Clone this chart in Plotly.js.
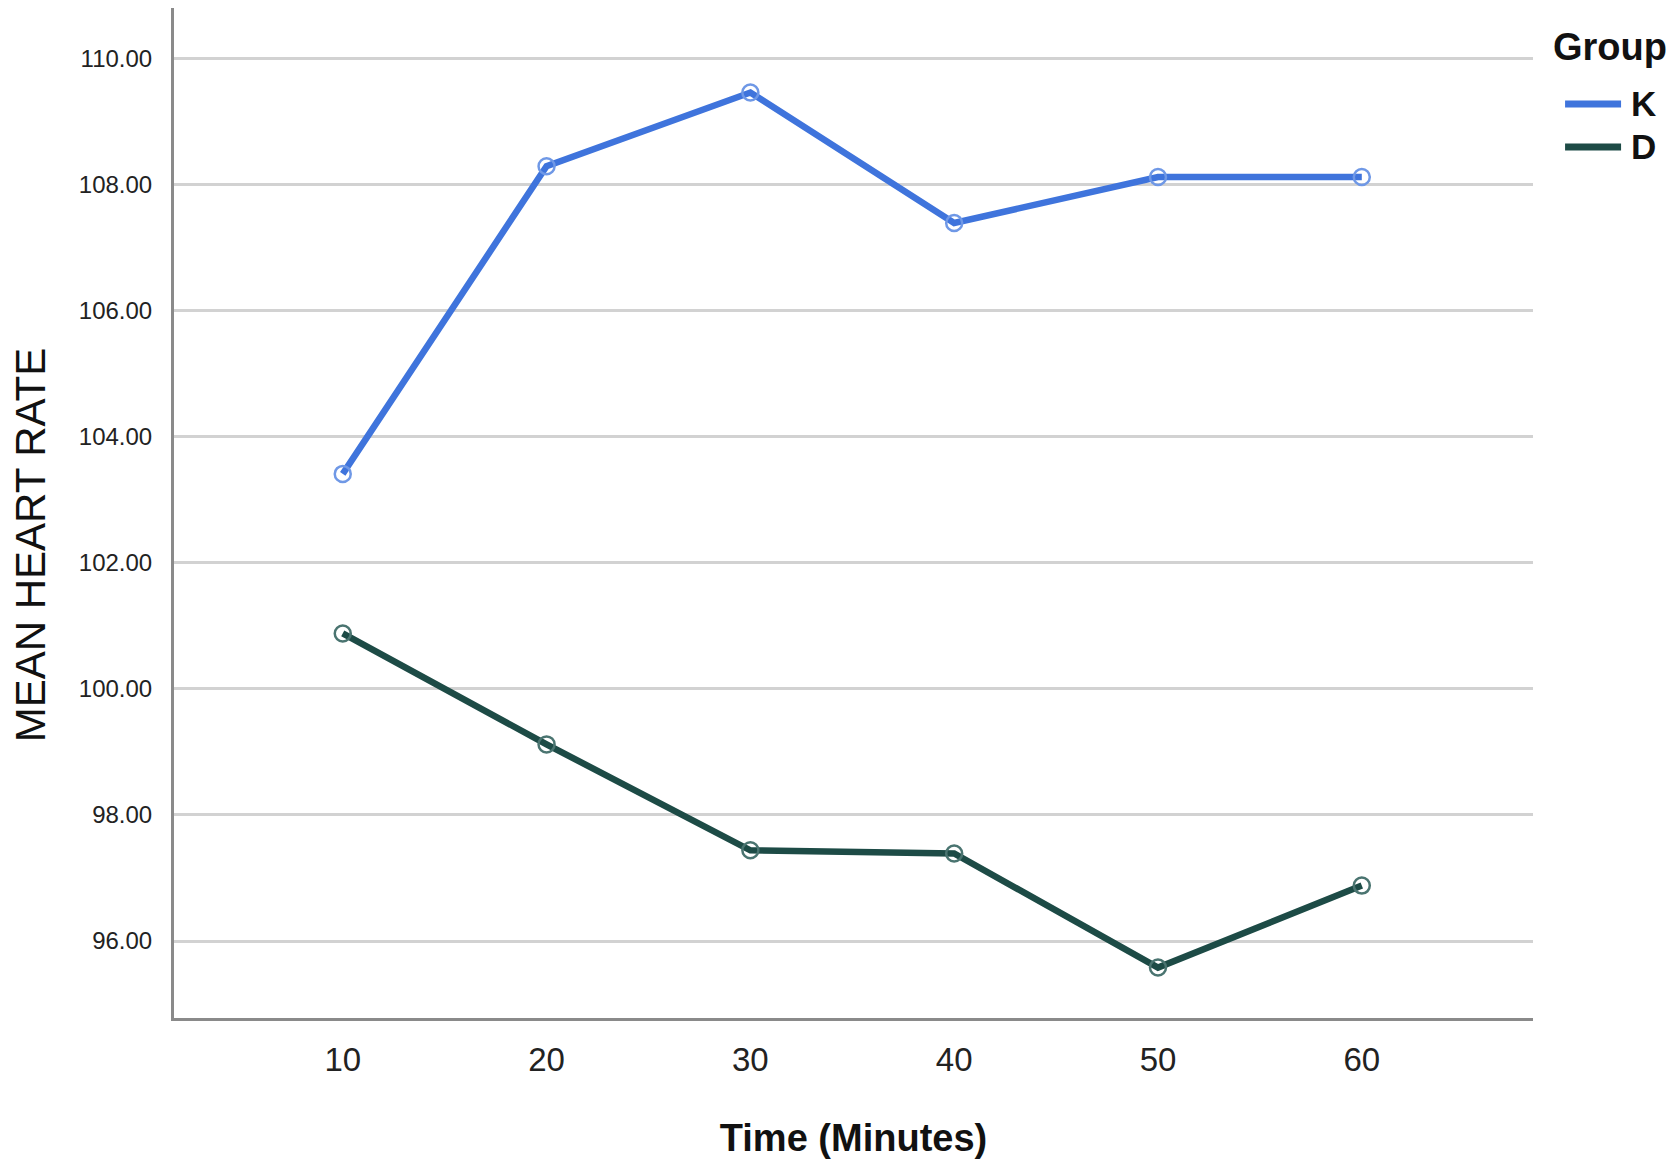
<!DOCTYPE html>
<html>
<head>
<meta charset="utf-8">
<script src="https://cdn.plot.ly/plotly-3.0.1.min.js"></script>
<style>html,body{margin:0;padding:0;background:#fff;}#chart{width:1675px;height:1168px;}</style>
</head>
<body>
<div id="chart"></div>
<script>
const time = [10, 20, 30, 40, 50, 60];
const groupK = [103.41, 108.29, 109.46, 107.39, 108.12, 108.12];
const groupD = [100.88, 99.12, 97.44, 97.39, 95.58, 96.88];
const yTicks = [96, 98, 100, 102, 104, 106, 108, 110];
const groupNames = ['K', 'D'];
const lineColors = ['#3f74dc', '#1d4b46'];
const markerColors = ['#6f98e6', '#4a7470'];

const series = [groupK, groupD];
const traces = [];
series.forEach((ys, i) => {
  traces.push({x: time, y: ys, name: groupNames[i], mode: 'lines', type: 'scatter',
    line: {color: lineColors[i], width: 6.5}, showlegend: false});
  traces.push({x: time, y: ys, name: groupNames[i], mode: 'markers', type: 'scatter',
    marker: {symbol: 'circle-open', size: 16, color: markerColors[i], line: {width: 2.5, color: markerColors[i]}},
    showlegend: false});
});

// manual legend (paper coordinates)
const legY = [0.905, 0.8624];
const shapes = [];
const annotations = [
  {text: '<b>Group</b>', xref: 'paper', yref: 'paper', x: 1.0133, y: 0.9614, xanchor: 'left', yanchor: 'middle',
   showarrow: false, font: {size: 38, color: '#111'}},
  {text: 'MEAN HEART RATE', xref: 'paper', yref: 'paper', x: -0.106, y: 0.468, xanchor: 'center', yanchor: 'middle',
   textangle: -90, showarrow: false, font: {size: 42, color: '#111'}}
];
groupNames.forEach((n, i) => {
  shapes.push({type: 'line', xref: 'paper', yref: 'paper', x0: 1.0236, x1: 1.0648, y0: legY[i], y1: legY[i],
    line: {color: lineColors[i], width: 7}});
  annotations.push({text: '<b>' + n + '</b>', xref: 'paper', yref: 'paper', x: 1.0706, y: legY[i],
    xanchor: 'left', yanchor: 'middle', showarrow: false, font: {size: 35, color: '#111'}});
});

const layout = {
  width: 1675, height: 1168,
  margin: {l: 174, r: 142, t: 8, b: 150},
  paper_bgcolor: '#fff', plot_bgcolor: '#fff',
  font: {family: 'Liberation Sans, Arial, sans-serif', color: '#222'},
  showlegend: false,
  shapes: shapes,
  annotations: annotations,
  xaxis: {
    range: [1.72, 68.4],
    tickvals: time, ticks: '', ticklabelstandoff: 10,
    tickfont: {size: 33, color: '#222'},
    showgrid: false, zeroline: false,
    showline: true, linecolor: '#8a8a8a', linewidth: 3,
    title: {text: '<b>Time (Minutes)</b>', font: {size: 38, color: '#111'}, standoff: 48}
  },
  yaxis: {
    range: [94.78, 110.8],
    tickvals: yTicks, tickformat: '.2f', ticks: '', ticklabelstandoff: 14,
    tickfont: {size: 24, color: '#222'},
    showgrid: true, gridcolor: '#d2d2d2', gridwidth: 3,
    zeroline: false,
    showline: true, linecolor: '#8a8a8a', linewidth: 3
  }
};

Plotly.newPlot('chart', traces, layout, {displayModeBar: false, staticPlot: true});
</script>
</body>
</html>
